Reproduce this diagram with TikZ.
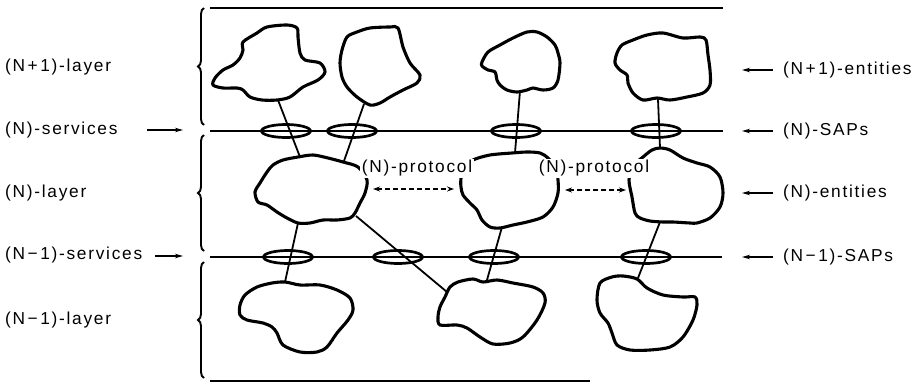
\documentclass[tikz,border=0pt]{standalone}
\usepackage{fontspec}
\setmainfont{Liberation Sans}
\newfontfamily\lblfont[LetterSpace=10]{Liberation Sans}
\usetikzlibrary{arrows.meta,decorations.pathreplacing,shapes.geometric}
% spaced operators inside the layer numbers
\newcommand{\lplus}{\kern2.5pt+\kern2.5pt}
\newcommand{\lminus}{\kern2.5pt−\kern2.5pt}

\begin{document}
\begin{tikzpicture}[x=1pt,y=-1pt,
  rule/.style={line width=1.8pt},
  layerbrace/.style={line width=1.9pt, decorate, decoration={brace,amplitude=6pt}},
  entity/.style={line width=3.1pt, line join=round},
  sap/.style={draw, ellipse, line width=2.7pt, inner sep=0pt, minimum width=49pt, minimum height=13pt},
  link/.style={line width=1.8pt},
  lbl/.style={font=\lblfont\fontsize{17.3}{20}\selectfont, inner sep=0pt, text height=12.5pt, text depth=3.5pt},
  pointer/.style={line width=1.4pt, -{Stealth[length=8pt,width=4.5pt]}},
  peer/.style={line width=1.5pt, dash pattern=on 5pt off 3pt,
    {Stealth[length=7pt,width=5pt]}-{Stealth[length=7pt,width=5pt]}},
]
\useasboundingbox (0,0) rectangle (922,383);

% layer boundaries
\coordinate (t0) at (210,8);   \coordinate (t1) at (723,8);
\coordinate (s0) at (210,131); \coordinate (s1) at (723,131);
\coordinate (r0) at (210,257); \coordinate (r1) at (722,257);
\coordinate (b0) at (210,381); \coordinate (b1) at (590,381);
\draw[rule] (t0) -- (t1);
\draw[rule] (s0) -- (s1);
\draw[rule] (r0) -- (r1);
\draw[rule] (b0) -- (b1);

% layer braces
\coordinate (br1a) at (204,125); \coordinate (br1b) at (204,8);
\coordinate (br2a) at (204,251); \coordinate (br2b) at (204,135);
\coordinate (br3a) at (204,378); \coordinate (br3b) at (204,262);
\draw[layerbrace] (br1a) -- (br1b);
\draw[layerbrace] (br2a) -- (br2b);
\draw[layerbrace] (br3a) -- (br3b);

% (N+1)-entities
\draw[entity] plot[smooth cycle, tension=0.5] coordinates {(243,42) (257,33) (267,27) (287,25) (297,28) (298,37) (300,53) (305,60) (320,63) (325,72) (318,80) (303,87) (290,97) (277,100) (262,100) (250,97) (243,90) (237,88) (223,88) (213,85) (215,78) (223,70) (233,65) (240,58) (243,50)};
\draw[entity] plot[smooth cycle, tension=0.5] coordinates {(347,37) (357,32) (370,28) (390,27) (398,28) (403,47) (410,63) (420,75) (417,83) (403,90) (390,97) (380,103) (370,105) (357,97) (347,87) (342,77) (340,63) (342,50)};
\draw[entity] plot[smooth cycle, tension=0.5] coordinates {(482,62) (488,52) (500,45) (513,38) (527,32) (537,32) (547,37) (555,45) (558,53) (560,63) (558,80) (553,88) (543,90) (533,88) (527,90) (517,92) (507,90) (500,85) (497,80) (495,72) (488,70) (482,66)};
\draw[entity] plot[smooth cycle, tension=0.5] coordinates {(617,53) (622,45) (633,40) (647,35) (663,33) (683,38) (700,37) (706,40) (708,55) (710,70) (710,85) (703,93) (687,97) (670,100) (657,98) (643,100) (633,93) (628,83) (627,75) (620,70) (615,63)};

% (N)-entities
\draw[entity] plot[smooth cycle, tension=0.5] coordinates {(255,192) (260,183) (267,172) (273,165) (283,160) (298,157) (313,155) (328,158) (343,162) (358,167) (367,180) (365,193) (360,203) (355,213) (350,218) (337,220) (323,220) (310,223) (298,223) (287,218) (277,212) (267,205) (258,202)};
\draw[entity] plot[smooth cycle, tension=0.5] coordinates {(473,160) (490,155) (512,153) (527,152) (540,153) (548,158) (556,168) (558,180) (558,193) (553,207) (543,217) (527,222) (513,225) (500,228) (490,227) (482,220) (477,210) (470,203) (463,195) (461,187) (461,178) (465,168)};
\draw[entity] plot[smooth cycle, tension=0.5] coordinates {(643,157) (652,150) (660,148) (670,150) (683,158) (697,163) (710,167) (720,177) (723,193) (720,207) (710,218) (697,223) (690,223) (673,222) (663,222) (650,221) (640,218) (635,213) (632,197) (629,180) (633,166)};

% (N-1)-entities
\draw[entity] plot[smooth cycle, tension=0.5] coordinates {(257,287) (272,283) (285,282) (300,285) (320,285) (337,290) (350,298) (353,310) (348,320) (337,333) (327,347) (317,352) (300,352) (283,345) (277,333) (272,327) (263,323) (247,320) (240,315) (240,305) (245,295)};
\draw[entity] plot[smooth cycle, tension=0.5] coordinates {(450,287) (458,282) (473,279) (483,282) (497,280) (513,283) (533,287) (543,293) (545,303) (537,320) (523,337) (510,343) (493,344) (480,337) (467,328) (457,325) (440,325) (438,317) (440,307) (445,297)};
\draw[entity] plot[smooth cycle, tension=0.5] coordinates {(600,283) (612,277) (623,276) (637,279) (647,288) (663,295) (683,297) (695,297) (697,305) (693,320) (683,337) (670,347) (650,350) (630,350) (617,345) (612,333) (608,323) (600,313) (597,300)};

% attachment points of the entities
\coordinate (A-s) at (278,100); \coordinate (B-s) at (364,104);
\coordinate (C-s) at (520,91);  \coordinate (D-s) at (658,99);
\coordinate (E-n1) at (300,157); \coordinate (E-n2) at (344,161);
\coordinate (E-s) at (298,223); \coordinate (E-se) at (356,216);
\coordinate (F-n) at (515,153); \coordinate (F-s) at (502,227);
\coordinate (G-n) at (660,148); \coordinate (G-s) at (660,222);
\coordinate (H-n) at (285,282); \coordinate (I-w) at (447,292);
\coordinate (I-n) at (487,280); \coordinate (J-n) at (638,278);

% connections through the service access points
\draw[link] (A-s) -- (E-n1);
\draw[link] (B-s) -- (E-n2);
\draw[link] (C-s) -- (F-n);
\draw[link] (D-s) -- (G-n);
\draw[link] (E-s) -- (H-n);
\draw[link] (E-se) -- (I-w);
\draw[link] (F-s) -- (I-n);
\draw[link] (G-s) -- (J-n);

% service access points
\node[sap] (sap1) at (286,131) {};
\node[sap] (sap2) at (352,131) {};
\node[sap] (sap3) at (516,131) {};
\node[sap] (sap4) at (656,131) {};
\node[sap] (sap5) at (288,257) {};
\node[sap] (sap6) at (398,257) {};
\node[sap] (sap7) at (494,257) {};
\node[sap] (sap8) at (646,257) {};

% peer protocols
\node[lbl, fill=white, inner sep=1.5pt] (p1) at (417,168) {(N)-protocol};
\node[lbl, fill=white, inner sep=1.5pt] (p2) at (594,168) {(N)-protocol};
\coordinate (p1a) at (373,189); \coordinate (p1b) at (454,189);
\coordinate (p2a) at (565,190); \coordinate (p2b) at (626,190);
\draw[peer] (p1a) -- (p1b);
\draw[peer] (p2a) -- (p2b);

% left labels
\node[lbl, anchor=west] (l1) at (5,67)  {(N\lplus1)-layer};
\node[lbl, anchor=west] (l2) at (5,130) {(N)-services};
\node[lbl, anchor=west] (l3) at (5,193) {(N)-layer};
\node[lbl, anchor=west] (l4) at (5,255) {(N\lminus1)-services};
\node[lbl, anchor=west] (l5) at (5,320) {(N\lminus1)-layer};
\coordinate (l2a) at (147,130); \coordinate (l2b) at (183,130);
\coordinate (l4a) at (155,256); \coordinate (l4b) at (183,256);
\draw[pointer] (l2a) -- (l2b);
\draw[pointer] (l4a) -- (l4b);

% right labels
\node[lbl, anchor=west] (q1) at (783,70)  {(N\lplus1)-entities};
\node[lbl, anchor=west] (q2) at (783,131) {(N)-SAPs};
\node[lbl, anchor=west] (q3) at (783,193) {(N)-entities};
\node[lbl, anchor=west] (q4) at (783,257) {(N\lminus1)-SAPs};
\foreach \y [count=\i] in {70,131,193,257} {
  \coordinate (qa\i) at (773,\y);
  \coordinate (qb\i) at (742,\y);
  \draw[pointer] (qa\i) -- (qb\i);
}
\end{tikzpicture}
\end{document}
